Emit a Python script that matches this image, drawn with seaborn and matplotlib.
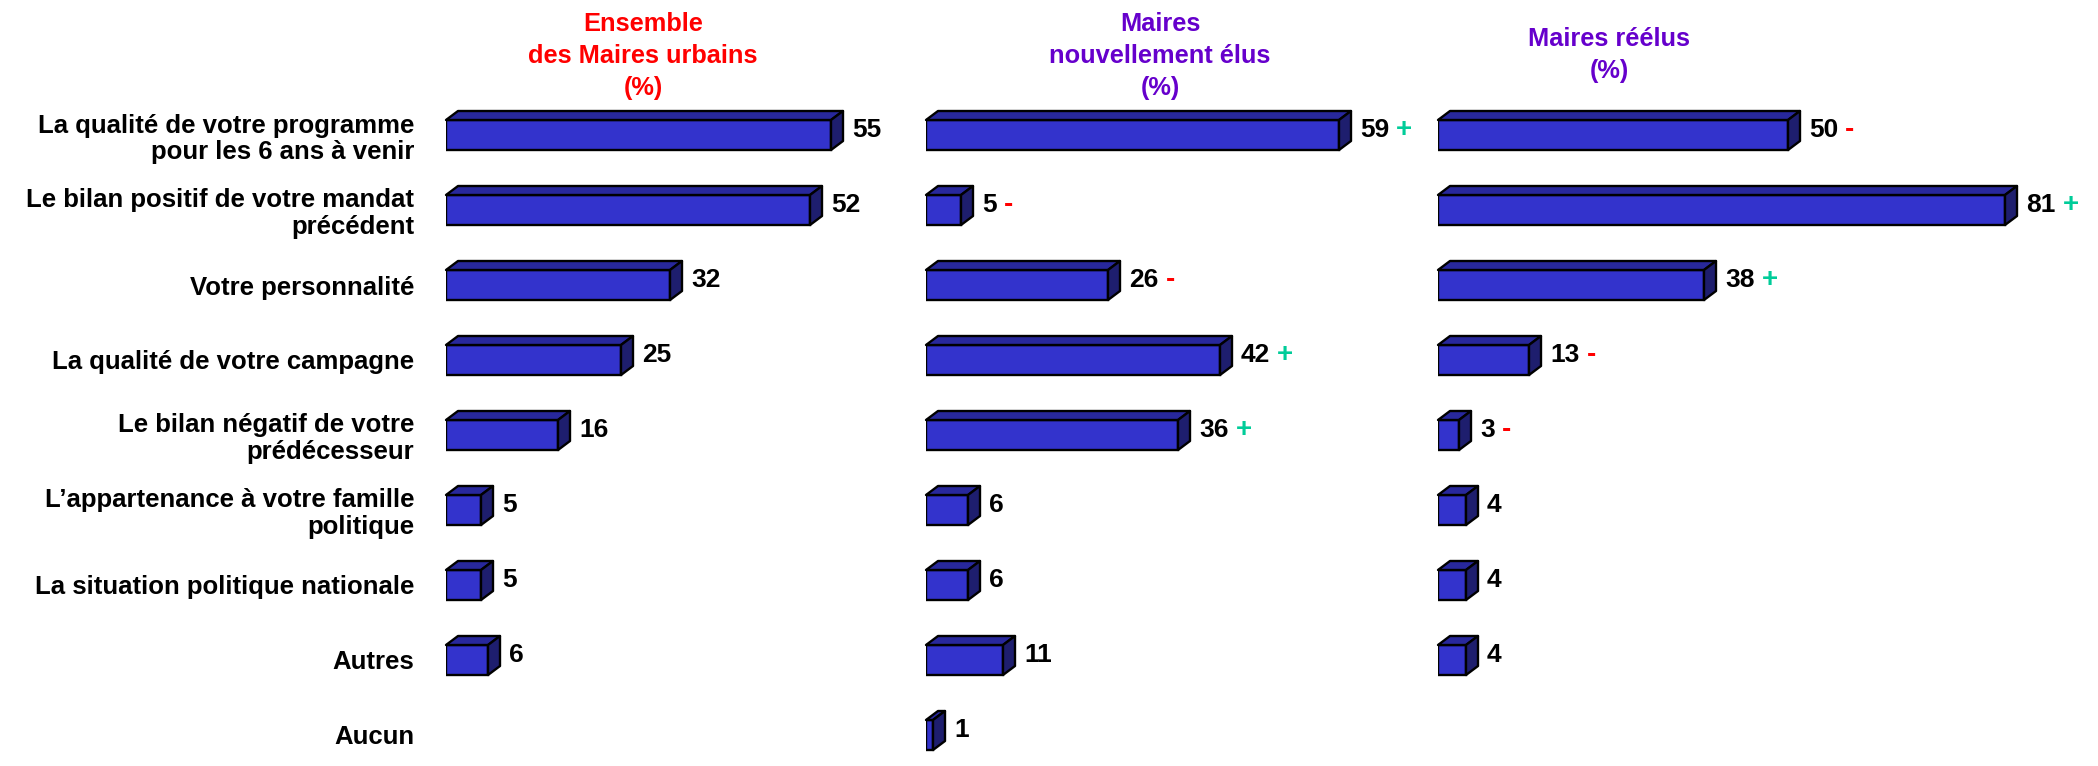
import pandas as pd
import matplotlib
matplotlib.use('Agg')
import matplotlib.pyplot as plt
from matplotlib.patches import Polygon
import seaborn as sns

# Données
categories = [
    "La qualité de votre programme\npour les 6 ans à venir",
    "Le bilan positif de votre mandat\nprécédent",
    "Votre personnalité",
    "La qualité de votre campagne",
    "Le bilan négatif de votre\nprédécesseur",
    "L’appartenance à votre famille\npolitique",
    "La situation politique nationale",
    "Autres",
    "Aucun",
]
ensemble = [55, 52, 32, 25, 16, 5, 5, 6, None]
nouveaux = [59, 5, 26, 42, 36, 6, 6, 11, 1]
reelus = [50, 81, 38, 13, 3, 4, 4, 4, None]

signes_ensemble = [""] * 9
signes_nouveaux = ["+", "-", "-", "+", "+", "", "", "", ""]
signes_reelus = ["-", "+", "+", "-", "-", "", "", "", ""]

titres = ["Ensemble\ndes Maires urbains\n(%)",
          "Maires\nnouvellement élus\n(%)",
          "Maires réélus\n(%)"]
couleurs_titres = ["#FF0000", "#6600CC", "#6600CC"]

sns.set_style("white")
plt.rcParams['font.family'] = ['Liberation Sans', 'DejaVu Sans']
plt.rcParams['font.weight'] = 'bold'
plt.rcParams['text.color'] = 'black'
plt.rcParams['ytick.color'] = 'black'

W, H = 2098, 766
fig = plt.figure(figsize=(W / 100, H / 100), dpi=100)

# mise en page en pixels
PX_UNIT = 7.0          # pixels par point de %
ROW_PX = 75            # pixels entre deux lignes
DX, DY = 12, 9         # profondeur de l'effet 3D (pixels)
ax_top, ax_bot = 60, 766
row0 = 135
starts = [446, 926, 1438]
ends = [926, 1438, 2098]
title_x = [643, 1160, 1609]
title_y = [56, 56, 55]

front = "#3333CC"
top_col = "#28289C"
side_col = "#1E1E6E"
sign_col = {"+": "#00CC99", "-": "#FF0000"}

panels = [(ensemble, signes_ensemble), (nouveaux, signes_nouveaux), (reelus, signes_reelus)]

for k, (vals, signes) in enumerate(panels):
    x0, x1 = starts[k], ends[k]
    ax = fig.add_axes([x0 / W, 0, (x1 - x0) / W, (ax_bot - ax_top) / H])
    df = pd.DataFrame({"categorie": categories, "valeur": vals}).dropna()
    sns.barplot(data=df, x="valeur", y="categorie", order=categories, orient="h",
                color=front, saturation=1, width=30 / ROW_PX, edgecolor="black",
                linewidth=1.7, ax=ax)
    ax.set_xlim(0, (x1 - x0) / PX_UNIT)
    ax.set_ylim(8 + (ax_bot - (row0 + 8 * ROW_PX)) / ROW_PX, -(row0 - ax_top) / ROW_PX)
    dx = DX / PX_UNIT
    dy = DY / ROW_PX

    for p in list(ax.patches):
        w = p.get_width()
        yt = p.get_y()
        yb = yt + p.get_height()
        i = int(round(yt + p.get_height() / 2))
        ax.add_patch(Polygon([(0, yt), (w, yt), (w + dx, yt - dy), (dx, yt - dy)],
                             closed=True, facecolor=top_col, edgecolor="black",
                             linewidth=1.7, joinstyle="round", clip_on=False))
        ax.add_patch(Polygon([(w, yt), (w + dx, yt - dy), (w + dx, yb - dy), (w, yb)],
                             closed=True, facecolor=side_col, edgecolor="black",
                             linewidth=1.7, joinstyle="round", clip_on=False))
        txt = ax.text(w + dx + 1.3, (yt + yb) / 2 - 0.07, f"{w:.0f}", ha="left",
                      va="center", fontsize=19, fontweight="bold", color="black")
        s = signes[i]
        if s:
            ax.annotate(s, xy=(1, 0.5), xycoords=txt, xytext=(5, 0),
                        textcoords="offset points", ha="left", va="center",
                        fontsize=20, fontweight="bold", color=sign_col[s])

    ax.set_xlabel("")
    ax.set_ylabel("")
    ax.set_xticks([])
    sns.despine(ax=ax, left=True, bottom=True)
    ax.patch.set_alpha(0)
    if k == 0:
        ax.tick_params(axis="y", length=0, pad=23, labelsize=18.5, labelcolor="black")
        for lbl in ax.get_yticklabels():
            lbl.set_fontweight("bold")
            lbl.set_linespacing(1.12)
            lbl.set_horizontalalignment("right")
    else:
        ax.set_yticks([])

    fig.text(title_x[k] / W, 1 - title_y[k] / H, titres[k], ha="center", va="center",
             fontsize=18.3, fontweight="bold", color=couleurs_titres[k],
             linespacing=1.42, multialignment="center")

fig.savefig("out.png", dpi=100)
